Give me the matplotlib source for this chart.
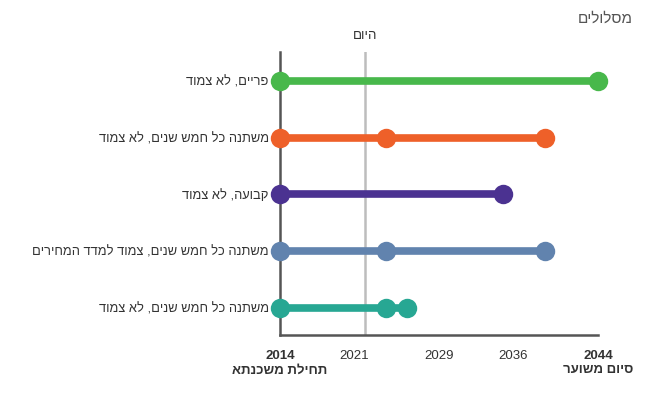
import matplotlib.pyplot as plt

plt.rcParams['font.family'] = ['Liberation Sans', 'DejaVu Sans']


def rtl(s):
    # matplotlib has no bidi support, so Hebrew is reversed for display
    return s[::-1]


# Data
tracks = ["פריים, לא צמוד",
          "משתנה כל חמש שנים, לא צמוד",
          "קבועה, לא צמוד",
          "משתנה כל חמש שנים, צמוד למדד המחירים",
          "משתנה כל חמש שנים, לא צמוד"]
start_year = [2014, 2014, 2014, 2014, 2014]
mid_year = [None, 2024, None, 2024, 2024]
end_year = [2044, 2039, 2035, 2039, 2026]
colors = ['#48B84B', '#EE6029', '#4B3291', '#6183AE', '#27A793']

today = 2022
tick_years = [2014, 2021, 2029, 2036, 2044]
tick_labels = ["2014\n" + rtl("תחילת משכנתא"), "2021", "2029", "2036",
               "2044\n" + rtl("סיום משוער")]

fig = plt.figure(figsize=(6.56, 3.95), dpi=100)
ax = fig.add_axes([0.4268, 0.152, 0.4848, 0.716])

for i, name in enumerate(tracks):
    ax.plot([start_year[i], end_year[i]], [i, i], color=colors[i], lw=5.5,
            solid_capstyle='butt', zorder=3)
    pts = [start_year[i], end_year[i]]
    if mid_year[i] is not None:
        pts.insert(1, mid_year[i])
    ax.plot(pts, [i] * len(pts), 'o', color=colors[i], ms=14, mew=0,
            clip_on=False, zorder=4)

ax.axvline(today, color='#BDBDBD', lw=1.8, zorder=2)
ax.text(today, -0.79, rtl("היום"), ha='center', va='center', fontsize=9.5,
        color='#333333')

ax.set_xlim(2014, 2044)
ax.set_ylim(4.48, -0.51)
ax.set_yticks(range(len(tracks)))
ax.set_yticklabels([rtl(t) for t in tracks], fontsize=9.3, color='#333333')
ax.set_xticks(tick_years)
ax.set_xticklabels(tick_labels, fontsize=9.5, color='#333333', linespacing=1.25)
for lbl in (ax.get_xticklabels()[0], ax.get_xticklabels()[-1]):
    lbl.set_fontweight('bold')
ax.tick_params(axis='y', length=0, pad=8)
ax.tick_params(axis='x', length=0, pad=11)
for side in ('top', 'right'):
    ax.spines[side].set_visible(False)
for side in ('left', 'bottom'):
    ax.spines[side].set_color('#555555')
    ax.spines[side].set_linewidth(1.8)
ax.spines['left'].set_zorder(1)

fig.text(0.964, 0.952, rtl("מסלולים"), ha='right', va='center', fontsize=11,
         color='#555555')

fig.savefig('out.png', dpi=100)
